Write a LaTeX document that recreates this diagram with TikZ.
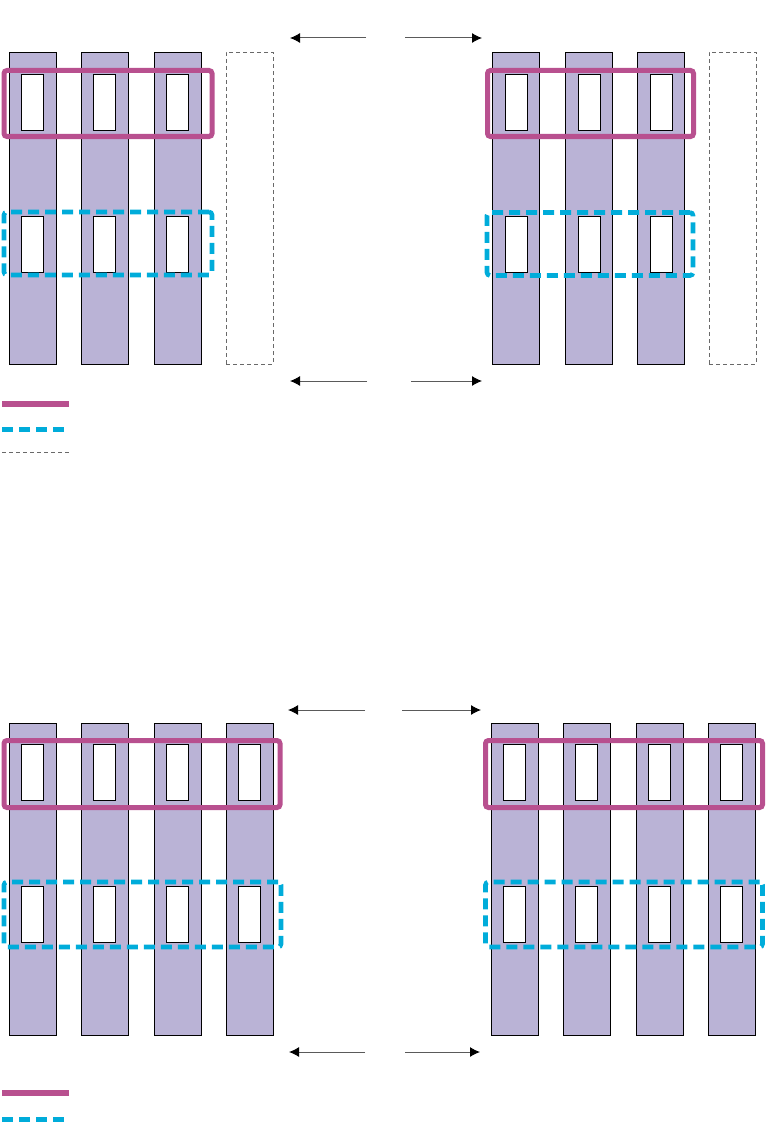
\documentclass[tikz,border=0pt]{standalone}
\usetikzlibrary{arrows.meta}
\definecolor{colfill}{RGB}{186,179,214}
\definecolor{magline}{RGB}{184,80,143}
\definecolor{bluline}{RGB}{0,172,218}
\definecolor{greyline}{RGB}{105,105,105}
\definecolor{arrline}{RGB}{90,90,90}
\tikzset{
  colbox/.style={draw=black, line width=0.8pt, fill=colfill, minimum width=47pt, minimum height=312pt, anchor=north west, inner sep=0pt, outer sep=0pt},
  emptycol/.style={draw=greyline, line width=0.9pt, dash pattern=on 4pt off 3pt, minimum width=47pt, minimum height=312pt, anchor=north west, inner sep=0pt, outer sep=0pt},
  winbox/.style={draw=black, line width=0.8pt, fill=white, minimum width=22pt, minimum height=56pt, anchor=north west, inner sep=0pt, outer sep=0pt},
  magbox/.style={draw=magline, line width=5pt, rounded corners=3pt, inner sep=0pt, outer sep=0pt},
  blubox/.style={draw=bluline, line width=4.6pt, rounded corners=3pt, dash pattern=on 11pt off 6pt, inner sep=0pt, outer sep=0pt},
  dimarrow/.style={draw=arrline, line width=1pt, -{Latex[length=10pt,width=10pt,color=black]}},
  maglegend/.style={draw=magline, line width=5.5pt},
  blulegend/.style={draw=bluline, line width=5pt, dash pattern=on 11pt off 6pt},
  greylegend/.style={draw=greyline, line width=1pt, dash pattern=on 4pt off 3pt},
}
\begin{document}
\begin{tikzpicture}[x=1pt,y=-1pt]
\useasboundingbox (0,0) rectangle (782,1137);
% ---------- top-left panel ----------
\foreach \i/\x in {1/9,2/81,3/154}{
  \node[colbox] (tlc\i) at (\x,52) {};
  \node[winbox] (tlwa\i) at (\x+12,74) {};
  \node[winbox] (tlwb\i) at (\x+12,216) {};
}
\node[emptycol] (tld) at (226,52) {};
\node[magbox, minimum width=208pt, minimum height=66pt] (tlmag) at (108,103.5) {};
\node[blubox, minimum width=208pt, minimum height=63pt] (tlblu) at (108,243.5) {};
% ---------- top-right panel ----------
\foreach \i/\x in {1/492,2/565,3/637}{
  \node[colbox] (trc\i) at (\x,52) {};
  \node[winbox] (trwa\i) at (\x+13,74) {};
  \node[winbox] (trwb\i) at (\x+13,216) {};
}
\node[emptycol] (trd) at (709,52) {};
\node[magbox, minimum width=206pt, minimum height=66pt] (trmag) at (590.5,103.5) {};
\node[blubox, minimum width=206pt, minimum height=63pt] (trblu) at (590,244) {};
% ---------- top arrows ----------
\coordinate (ta1s) at (366,38); \coordinate (ta1e) at (290,38);
\coordinate (ta2s) at (405,38); \coordinate (ta2e) at (482,38);
\draw[dimarrow] (ta1s) -- (ta1e);
\draw[dimarrow] (ta2s) -- (ta2e);
\coordinate (tb1s) at (367,381); \coordinate (tb1e) at (290,381);
\coordinate (tb2s) at (411,381); \coordinate (tb2e) at (482,381);
\draw[dimarrow] (tb1s) -- (tb1e);
\draw[dimarrow] (tb2s) -- (tb2e);
% ---------- top legend ----------
\coordinate (lg1a) at (2,404); \coordinate (lg1b) at (69,404);
\coordinate (lg2a) at (2,429); \coordinate (lg2b) at (67,429);
\coordinate (lg3a) at (2,452); \coordinate (lg3b) at (69,452);
\draw[maglegend] (lg1a) -- (lg1b);
\draw[blulegend] (lg2a) -- (lg2b);
\draw[greylegend] (lg3a) -- (lg3b);
% ---------- bottom-left panel ----------
\foreach \i/\x in {1/9,2/81,3/154,4/226}{
  \node[colbox] (blc\i) at (\x,723) {};
  \node[winbox] (blwa\i) at (\x+12,744) {};
  \node[winbox] (blwb\i) at (\x+12,886) {};
}
\node[magbox, minimum width=276pt, minimum height=67pt] (blmag) at (142,774) {};
\node[blubox, minimum width=277pt, minimum height=65pt] (blblu) at (142.5,914.5) {};
% ---------- bottom-right panel ----------
\foreach \i/\x in {1/491,2/563,3/636,4/708}{
  \node[colbox] (brc\i) at (\x,723) {};
  \node[winbox] (brwa\i) at (\x+12,744) {};
  \node[winbox] (brwb\i) at (\x+12,886) {};
}
\node[magbox, minimum width=277pt, minimum height=67pt] (brmag) at (624,774) {};
\node[blubox, minimum width=277pt, minimum height=65pt] (brblu) at (624,914.5) {};
% ---------- bottom arrows ----------
\coordinate (ba1s) at (365,710); \coordinate (ba1e) at (288,710);
\coordinate (ba2s) at (402,710); \coordinate (ba2e) at (481,710);
\draw[dimarrow] (ba1s) -- (ba1e);
\draw[dimarrow] (ba2s) -- (ba2e);
\coordinate (bb1s) at (365,1052); \coordinate (bb1e) at (289,1052);
\coordinate (bb2s) at (405,1052); \coordinate (bb2e) at (480,1052);
\draw[dimarrow] (bb1s) -- (bb1e);
\draw[dimarrow] (bb2s) -- (bb2e);
% ---------- bottom legend ----------
\coordinate (lh1a) at (2,1093); \coordinate (lh1b) at (69,1093);
\coordinate (lh2a) at (2,1119); \coordinate (lh2b) at (67,1119);
\draw[maglegend] (lh1a) -- (lh1b);
\draw[blulegend] (lh2a) -- (lh2b);
\end{tikzpicture}
\end{document}
